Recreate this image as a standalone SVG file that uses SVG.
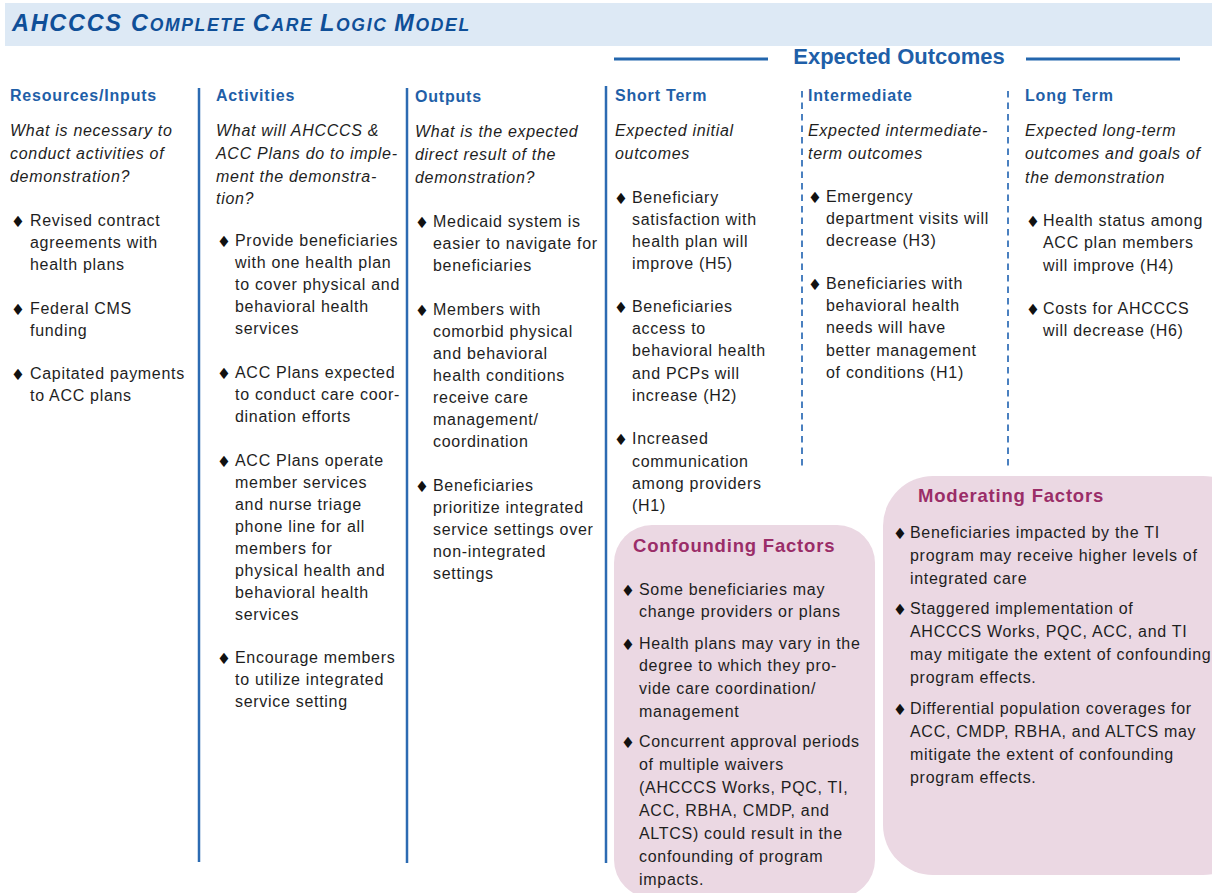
<svg xmlns="http://www.w3.org/2000/svg" width="1212" height="893" viewBox="0 0 1212 893">
<style>
.t{font-family:"Liberation Sans",Arial,sans-serif;font-size:16px;fill:#1e1e1e;letter-spacing:0.7px}
.i{font-style:italic}
.h{font-family:"Liberation Sans",Arial,sans-serif;font-size:16px;font-weight:bold;fill:#1f5fa8;letter-spacing:0.8px}
.bh{font-family:"Liberation Sans",Arial,sans-serif;font-size:18.5px;font-weight:bold;fill:#9a2d68;letter-spacing:0.8px}
.d{font-family:"DejaVu Sans",sans-serif;font-size:15.5px;fill:#111;text-anchor:middle}
.sl{stroke:#2c6bb2;stroke-width:2.5;fill:none}
.dl{stroke:#4a80c0;stroke-width:2;stroke-dasharray:6.5 5;fill:none}
.box{fill:#ebd8e3}
</style>
<rect x="5" y="3" width="1207" height="43" fill="#dde9f5"/>
<text x="12" y="31" font-family="'Liberation Sans',Arial,sans-serif" font-weight="bold" font-style="italic" fill="#0f4f98" font-size="23.5" letter-spacing="1.7">AHCCCS C<tspan font-size="17.5">OMPLETE </tspan>C<tspan font-size="17.5">ARE </tspan>L<tspan font-size="17.5">OGIC </tspan>M<tspan font-size="17.5">ODEL</tspan></text>

<g id="connectors">
<line class="sl" x1="199" y1="88" x2="199" y2="862"/>
<line class="sl" x1="407" y1="88" x2="407" y2="863"/>
<line class="sl" x1="606" y1="86" x2="606" y2="863"/>
<line class="dl" x1="802" y1="91" x2="802" y2="467"/>
<line class="dl" x1="1008" y1="91" x2="1008" y2="467"/>
<line stroke="#2366ad" stroke-width="3" x1="614" y1="59" x2="768" y2="59"/>
<line stroke="#2366ad" stroke-width="3" x1="1026" y1="59" x2="1180" y2="59"/>
</g>

<g id="expected-outcomes">
<text x="899" y="64" text-anchor="middle" font-family="'Liberation Sans',Arial,sans-serif" font-weight="bold" font-size="22" fill="#1f5fa8">Expected Outcomes</text>
</g>

<g id="resources">
<text class="h" x="10" y="101">Resources/Inputs</text>
<text class="t i" x="10" y="136">What is necessary to<tspan x="10" dy="23">conduct activities of</tspan><tspan x="10" dy="23">demonstration?</tspan></text>
<text class="d" x="18" y="227">♦</text>
<text class="t" x="30" y="226">Revised contract<tspan x="30" dy="22">agreements with</tspan><tspan x="30" dy="22">health plans</tspan></text>
<text class="d" x="18" y="315">♦</text>
<text class="t" x="30" y="314">Federal CMS<tspan x="30" dy="22">funding</tspan></text>
<text class="d" x="18" y="380">♦</text>
<text class="t" x="30" y="379">Capitated payments<tspan x="30" dy="22">to ACC plans</tspan></text>
</g>

<g id="activities">
<text class="h" x="216" y="101">Activities</text>
<text class="t i" x="216" y="136">What will AHCCCS &amp;<tspan x="216" dy="23">ACC Plans do to imple-</tspan><tspan x="216" dy="23">ment the demonstra-</tspan><tspan x="216" dy="22">tion?</tspan></text>
<text class="d" x="224" y="247">♦</text>
<text class="t" x="235" y="246">Provide beneficiaries<tspan x="235" dy="22">with one health plan</tspan><tspan x="235" dy="22">to cover physical and</tspan><tspan x="235" dy="22">behavioral health</tspan><tspan x="235" dy="22">services</tspan></text>
<text class="d" x="224" y="379">♦</text>
<text class="t" x="235" y="378">ACC Plans expected<tspan x="235" dy="22">to conduct care coor-</tspan><tspan x="235" dy="22">dination efforts</tspan></text>
<text class="d" x="224" y="467">♦</text>
<text class="t" x="235" y="466">ACC Plans operate<tspan x="235" dy="22">member services</tspan><tspan x="235" dy="22">and nurse triage</tspan><tspan x="235" dy="22">phone line for all</tspan><tspan x="235" dy="22">members for</tspan><tspan x="235" dy="22">physical health and</tspan><tspan x="235" dy="22">behavioral health</tspan><tspan x="235" dy="22">services</tspan></text>
<text class="d" x="224" y="664">♦</text>
<text class="t" x="235" y="663">Encourage members<tspan x="235" dy="22">to utilize integrated</tspan><tspan x="235" dy="22">service setting</tspan></text>
</g>

<g id="outputs">
<text class="h" x="415" y="102">Outputs</text>
<text class="t i" x="415" y="137">What is the expected<tspan x="415" dy="23">direct result of the</tspan><tspan x="415" dy="23">demonstration?</tspan></text>
<text class="d" x="422" y="228">♦</text>
<text class="t" x="433" y="227">Medicaid system is<tspan x="433" dy="22">easier to navigate for</tspan><tspan x="433" dy="22">beneficiaries</tspan></text>
<text class="d" x="422" y="316">♦</text>
<text class="t" x="433" y="315">Members with<tspan x="433" dy="22">comorbid physical</tspan><tspan x="433" dy="22">and behavioral</tspan><tspan x="433" dy="22">health conditions</tspan><tspan x="433" dy="22">receive care</tspan><tspan x="433" dy="22">management/</tspan><tspan x="433" dy="22">coordination</tspan></text>
<text class="d" x="422" y="492">♦</text>
<text class="t" x="433" y="491">Beneficiaries<tspan x="433" dy="22">prioritize integrated</tspan><tspan x="433" dy="22">service settings over</tspan><tspan x="433" dy="22">non-integrated</tspan><tspan x="433" dy="22">settings</tspan></text>
</g>

<g id="short-term">
<text class="h" x="615" y="101">Short Term</text>
<text class="t i" x="615" y="136">Expected initial<tspan x="615" dy="23">outcomes</tspan></text>
<text class="d" x="621" y="204">♦</text>
<text class="t" x="632" y="203">Beneficiary<tspan x="632" dy="22">satisfaction with</tspan><tspan x="632" dy="22">health plan will</tspan><tspan x="632" dy="22">improve (H5)</tspan></text>
<text class="d" x="621" y="313">♦</text>
<text class="t" x="632" y="312">Beneficiaries<tspan x="632" dy="22">access to</tspan><tspan x="632" dy="22">behavioral health</tspan><tspan x="632" dy="22.5">and PCPs will</tspan><tspan x="632" dy="22.5">increase (H2)</tspan></text>
<text class="d" x="621" y="445">♦</text>
<text class="t" x="632" y="444">Increased<tspan x="632" dy="22.5">communication</tspan><tspan x="632" dy="22.5">among providers</tspan><tspan x="632" dy="22">(H1)</tspan></text>
</g>

<g id="intermediate">
<text class="h" x="808" y="101">Intermediate</text>
<text class="t i" x="808" y="136">Expected intermediate-<tspan x="808" dy="23">term outcomes</tspan></text>
<text class="d" x="815" y="203">♦</text>
<text class="t" x="826" y="202">Emergency<tspan x="826" dy="22">department visits will</tspan><tspan x="826" dy="22">decrease (H3)</tspan></text>
<text class="d" x="815" y="290">♦</text>
<text class="t" x="826" y="289">Beneficiaries with<tspan x="826" dy="22">behavioral health</tspan><tspan x="826" dy="22">needs will have</tspan><tspan x="826" dy="22.5">better management</tspan><tspan x="826" dy="22.5">of conditions (H1)</tspan></text>
</g>

<g id="long-term">
<text class="h" x="1025" y="101">Long Term</text>
<text class="t i" x="1025" y="136">Expected long-term<tspan x="1025" dy="23">outcomes and goals of</tspan><tspan x="1025" dy="23.5">the demonstration</tspan></text>
<text class="d" x="1033" y="227">♦</text>
<text class="t" x="1043" y="226">Health status among<tspan x="1043" dy="22">ACC plan members</tspan><tspan x="1043" dy="22.5">will improve (H4)</tspan></text>
<text class="d" x="1033" y="315">♦</text>
<text class="t" x="1043" y="314">Costs for AHCCCS<tspan x="1043" dy="22">will decrease (H6)</tspan></text>
</g>

<g id="confounding-factors">
<rect class="box" x="614" y="525" width="261" height="373" rx="38"/>
<text class="bh" x="633" y="552">Confounding Factors</text>
<text class="d" x="628" y="596">♦</text>
<text class="t" x="639" y="595">Some beneficiaries may<tspan x="639" dy="22">change providers or plans</tspan></text>
<text class="d" x="628" y="650">♦</text>
<text class="t" x="639" y="649">Health plans may vary in the<tspan x="639" dy="22">degree to which they pro-</tspan><tspan x="639" dy="23">vide care coordination/</tspan><tspan x="639" dy="23">management</tspan></text>
<text class="d" x="628" y="748">♦</text>
<text class="t" x="639" y="747">Concurrent approval periods<tspan x="639" dy="23">of multiple waivers</tspan><tspan x="639" dy="23">(AHCCCS Works, PQC, TI,</tspan><tspan x="639" dy="23">ACC, RBHA, CMDP, and</tspan><tspan x="639" dy="23">ALTCS) could result in the</tspan><tspan x="639" dy="23">confounding of program</tspan><tspan x="639" dy="23">impacts.</tspan></text>
</g>

<g id="moderating-factors">
<rect class="box" x="883" y="476" width="370" height="399" rx="50"/>
<text class="bh" x="918" y="502">Moderating Factors</text>
<text class="d" x="900" y="539">♦</text>
<text class="t" x="910" y="538">Beneficiaries impacted by the TI<tspan x="910" dy="23">program may receive higher levels of</tspan><tspan x="910" dy="23">integrated care</tspan></text>
<text class="d" x="900" y="615">♦</text>
<text class="t" x="910" y="614">Staggered implementation of<tspan x="910" dy="23">AHCCCS Works, PQC, ACC, and TI</tspan><tspan x="910" dy="23">may mitigate the extent of confounding</tspan><tspan x="910" dy="23">program effects.</tspan></text>
<text class="d" x="900" y="715">♦</text>
<text class="t" x="910" y="714">Differential population coverages for<tspan x="910" dy="23">ACC, CMDP, RBHA, and ALTCS may</tspan><tspan x="910" dy="23">mitigate the extent of confounding</tspan><tspan x="910" dy="23">program effects.</tspan></text>
</g>
</svg>
